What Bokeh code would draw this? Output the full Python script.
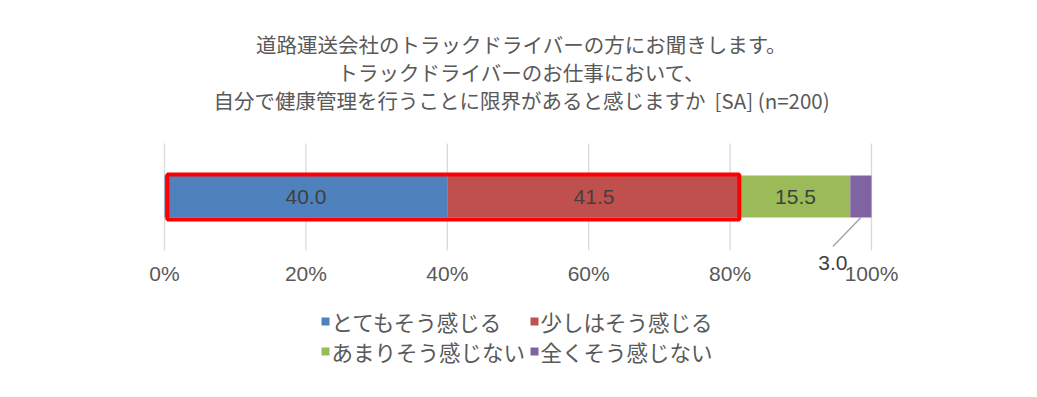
from bokeh.plotting import figure
from bokeh.models import Range1d, ColumnDataSource
from bokeh.embed import file_html
from bokeh.resources import INLINE
from bokeh.core.properties import value

# ---- data ----
title_lines = [
    "道路運送会社のトラックドライバーの方にお聞きします。",
    "トラックドライバーのお仕事において、",
    "自分で健康管理を行うことに限界があると感じますか\u00a0\u00a0[SA] (n=200)",
]
categories = ["とてもそう感じる", "少しはそう感じる", "あまりそう感じない", "全くそう感じない"]
values = [40.0, 41.5, 15.5, 3.0]
colors = ["#4F81BD", "#C0504D", "#9BBB59", "#8064A2"]
ticks = [0, 20, 40, 60, 80, 100]
tick_labels = ["0%", "20%", "40%", "60%", "80%", "100%"]
highlight_count = 2          # first two categories are framed in red
outside_label_index = 3      # small segment labelled outside with a leader line

# ---- layout / style (page pixels) ----
CJK = "Noto Sans CJK JP"
NUM = "Liberation Sans"
TEXT_COLOR = "#595959"
LABEL_COLOR = "#404040"
W, H = 1021, 381
PAGE_OFF = 2
X0_PX, X100_PX = 166, 873            # where 0% and 100% sit
PPU = (X100_PX - X0_PX) / 100.0      # pixels per percent


def px(xp):
    """page pixel column -> data x"""
    return (xp - X0_PX) / PPU


GRID_TOP, GRID_BOTTOM = 145, 252
BAR_Y, BAR_H = 198, 42
TICK_Y = 275
TITLE_Y = [45, 73, 101]
LEG_ROWS = [323, 353]
LEG_COLS = [327, 536]

# cumulative positions
lefts, rights = [], []
acc = 0.0
for v in values:
    lefts.append(acc)
    acc += v
    rights.append(acc)

p = figure(width=W, height=H,
           x_range=Range1d(px(PAGE_OFF), px(PAGE_OFF + W)),
           y_range=Range1d(PAGE_OFF + H, PAGE_OFF),
           output_backend="svg", toolbar_location=None,
           min_border=0, outline_line_color=None,
           background_fill_color="white", border_fill_color="white")
p.axis.visible = False
p.grid.visible = False

# title
p.text(x=[50.5] * len(title_lines), y=TITLE_Y, text=title_lines,
       text_align="center", text_baseline="middle", text_font=value(CJK),
       text_font_size="20.5px", text_color=TEXT_COLOR)

# grid lines and tick labels
p.segment(x0=ticks, y0=[GRID_TOP] * len(ticks), x1=ticks, y1=[GRID_BOTTOM] * len(ticks),
          line_color="#D9D9D9", line_width=1.3)
p.text(x=ticks, y=[TICK_Y] * len(ticks), text=tick_labels, text_align="center",
       text_baseline="middle", text_font=value(NUM), text_font_size="21px",
       text_color=TEXT_COLOR)

# bars
for i, col in enumerate(colors):
    src = ColumnDataSource(dict(y=[BAR_Y], left=[lefts[i]], right=[rights[i]]))
    p.hbar(y="y", left="left", right="right", height=BAR_H, source=src,
           fill_color=col, line_color=None)

# highlight frame around first two segments
p.quad(left=[lefts[0] + 0.4], right=[rights[highlight_count - 1] - 0.2],
       bottom=[BAR_Y + 23], top=[BAR_Y - 22],
       fill_color=None, line_color="#FF0000", line_width=4)

# labels inside segments
inside = [i for i in range(len(values)) if i != outside_label_index]
p.text(x=[(lefts[i] + rights[i]) / 2 for i in inside], y=[BAR_Y] * len(inside),
       text=["%.1f" % values[i] for i in inside], text_align="center",
       text_baseline="middle", text_font=value(NUM), text_font_size="21px",
       text_color=LABEL_COLOR)

# leader line + outside label
i = outside_label_index
mid = (lefts[i] + rights[i]) / 2
end_x = mid - 28 / PPU
p.segment(x0=[mid], y0=[BAR_Y + BAR_H / 2], x1=[end_x], y1=[GRID_BOTTOM - 4],
          line_color="#A6A6A6", line_width=1.5)
p.text(x=[end_x], y=[GRID_BOTTOM + 12], text=["%.1f" % values[i]], text_align="center",
       text_baseline="middle", text_font=value(NUM), text_font_size="21px",
       text_color=LABEL_COLOR)

# legend (2 x 2, row-major)
SQ = 8
lx, ly, lt, lc = [], [], [], []
for k, (c, col) in enumerate(zip(categories, colors)):
    r, cidx = divmod(k, 2)
    lx.append(px(LEG_COLS[cidx]))
    ly.append(LEG_ROWS[r])
    lt.append(c)
    lc.append(col)
p.scatter(x=lx, y=ly, marker="square", size=SQ, fill_color=lc, line_color=None)
p.text(x=[x + 6 / PPU for x in lx], y=ly, text=lt, text_align="left",
       text_baseline="middle", text_font=value(CJK), text_font_size="21.5px",
       text_color=TEXT_COLOR)

open("out.html", "w").write(file_html(p, INLINE))
